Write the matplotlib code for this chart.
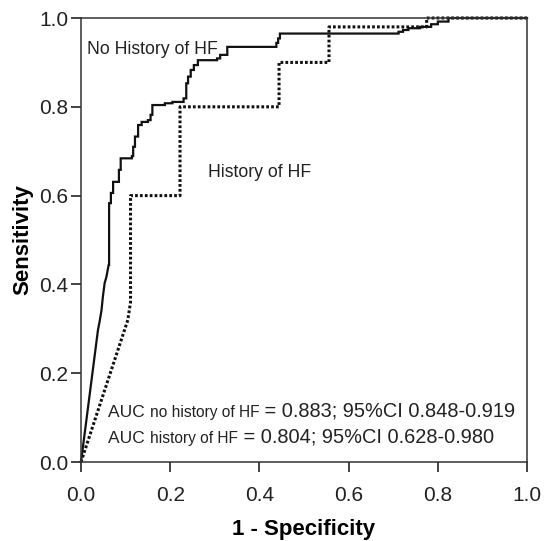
import numpy as np
import matplotlib
matplotlib.use('Agg')
import matplotlib.pyplot as plt
from matplotlib.ticker import FormatStrFormatter

plt.rcParams['font.family'] = ['Liberation Sans', 'DejaVu Sans']

# ROC curve, patients without history of HF (solid)
no_hf_fpr = [0.0, 0.038, 0.042, 0.046, 0.049, 0.053, 0.057, 0.062,
             0.063, 0.063, 0.067, 0.067, 0.072, 0.072, 0.085, 0.085, 0.089, 0.089,
             0.114, 0.114, 0.117, 0.117, 0.121, 0.121, 0.128, 0.128, 0.136, 0.136,
             0.150, 0.150, 0.156, 0.156, 0.160, 0.160, 0.188, 0.188, 0.205, 0.205,
             0.230, 0.230, 0.236, 0.236, 0.240, 0.240, 0.246, 0.246, 0.253, 0.253,
             0.262, 0.262, 0.305, 0.305, 0.312, 0.312, 0.328, 0.328, 0.438, 0.438,
             0.442, 0.442, 0.446, 0.446, 0.712, 0.712, 0.722, 0.722, 0.734, 0.734,
             0.760, 0.760, 0.785, 0.785, 0.800, 0.800, 0.824, 0.824, 1.0]
no_hf_tpr = [0.0, 0.297, 0.318, 0.342, 0.372, 0.403, 0.417, 0.444,
             0.444, 0.583, 0.583, 0.606, 0.606, 0.631, 0.631, 0.658, 0.658, 0.684,
             0.684, 0.689, 0.689, 0.710, 0.710, 0.733, 0.733, 0.759, 0.759, 0.766,
             0.766, 0.770, 0.770, 0.782, 0.782, 0.804, 0.804, 0.808, 0.808, 0.811,
             0.811, 0.819, 0.819, 0.853, 0.853, 0.868, 0.868, 0.883, 0.883, 0.894,
             0.894, 0.905, 0.905, 0.909, 0.909, 0.917, 0.917, 0.935, 0.935, 0.944,
             0.944, 0.954, 0.954, 0.965, 0.965, 0.969, 0.969, 0.973, 0.973, 0.977,
             0.977, 0.980, 0.980, 0.986, 0.986, 0.992, 0.992, 1.0, 1.0]

# ROC curve, patients with history of HF (dotted)
hf_fpr = [0.0, 0.105, 0.111, 0.111, 0.222, 0.222, 0.444, 0.444, 0.556, 0.556,
          0.775, 0.775, 1.0]
hf_tpr = [0.0, 0.32, 0.36, 0.60, 0.60, 0.80, 0.80, 0.90, 0.90, 0.98,
          0.98, 1.0, 1.0]

ticks = [0.0, 0.2, 0.4, 0.6, 0.8, 1.0]

auc_lines = [
    ('no history of HF', ' = 0.883; 95%CI 0.848-0.919'),
    ('history of HF', ' = 0.804; 95%CI 0.628-0.980'),
]

fig = plt.figure(figsize=(5.44, 5.41), dpi=100)
ax = fig.add_axes([0.1489, 0.146, 0.8199, 0.8207])

ax.plot(no_hf_fpr, no_hf_tpr, color='#111111', linewidth=1.6,
        solid_joinstyle='miter', clip_on=False)
ax.plot(hf_fpr, hf_tpr, color='#111111', linewidth=2.2,
        linestyle=(0, (0.9, 0.7)), dash_capstyle='butt', clip_on=False)

ax.set_xlim(0, 1)
ax.set_ylim(0, 1)
ax.set_xticks(ticks)
ax.set_yticks(ticks)
ax.xaxis.set_major_formatter(FormatStrFormatter('%.1f'))
ax.yaxis.set_major_formatter(FormatStrFormatter('%.1f'))
ax.tick_params(axis='both', direction='out', length=7, width=1.2,
               labelsize=15, colors='#222222')
ax.tick_params(axis='x', pad=10)
ax.tick_params(axis='y', pad=2)
for side in ['left', 'bottom', 'right', 'top']:
    ax.spines[side].set_linewidth(1.1)
    ax.spines[side].set_color('#333333')

ax.set_xlabel('1 - Specificity', fontsize=16, fontweight='bold', labelpad=10)
ax.set_ylabel('Sensitivity', fontsize=16, fontweight='bold', labelpad=4)

ax.text(0.013, 0.928, 'No History of HF', fontsize=12.7, va='center',
        color='#222222')
ax.text(0.285, 0.652, 'History of HF', fontsize=12.7, va='center',
        color='#222222')

for (sub, rest), ypos in zip(auc_lines, [0.094, 0.036]):
    t1 = ax.text(0.061, ypos, 'AUC ', fontsize=12.5, va='bottom',
                 color='#222222')
    t2 = ax.annotate(sub, xy=(1, 0), xycoords=t1, fontsize=11.2, va='bottom',
                     ha='left', color='#222222')
    ax.annotate(rest, xy=(1, 0), xycoords=t2, fontsize=14.4, va='bottom',
                ha='left', color='#222222')

fig.savefig('out.png', dpi=100)
